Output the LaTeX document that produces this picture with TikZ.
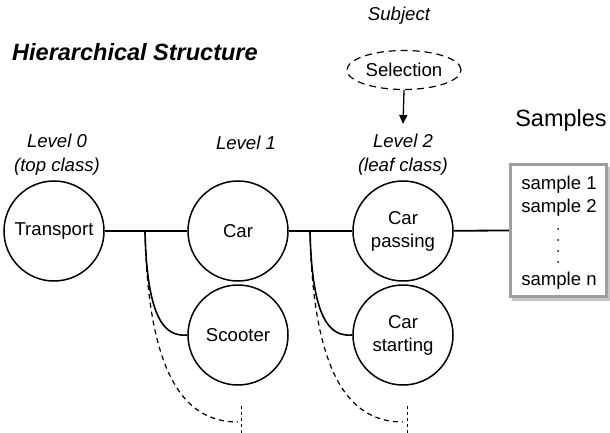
\documentclass[tikz,border=0pt]{standalone}
\usepackage{fontspec}
\setmainfont{Liberation Sans}
\usetikzlibrary{shapes.geometric,arrows.meta}

\tikzset{
  txt/.style={inner sep=0pt, font=\fontsize{18.6}{23.5}\selectfont, align=center},
  lvl/.style={txt, font=\fontsize{18.6}{24}\selectfont\itshape},
  cls/.style={circle, draw, line width=1.5pt, minimum size=100pt, inner sep=0pt,
              font=\fontsize{18.6}{23}\selectfont, align=center},
  link/.style={line width=1.8pt},
  branch/.style={line width=1.6pt},
  more/.style={line width=1.2pt, dash pattern=on 5pt off 4pt},
  tail/.style={line width=1pt, dash pattern=on 3pt off 3pt},
  samplebox/.style={draw=gray!75, line width=3.5pt, minimum width=96pt,
                    minimum height=132pt, inner sep=0pt, fill=white},
}

\begin{document}
\begin{tikzpicture}[x=1pt, y=-1pt]
  \useasboundingbox (0,0) rectangle (610,433);

  % title and subject selection
  \node[txt, font=\fontsize{23.5}{28}\selectfont\bfseries\itshape, anchor=west]
       (title) at (12,52) {Hierarchical Structure};
  \node[lvl] (subject) at (399,16) {Subject};
  \node[ellipse, draw, line width=1.2pt, dash pattern=on 7pt off 5pt,
        minimum width=114pt, minimum height=39pt, inner sep=0pt,
        font=\fontsize{18.6}{23}\selectfont] (sel) at (404,70) {Selection};
  \coordinate (selend) at (403,124);
  \draw[line width=1.3pt, -{Triangle[length=9pt,width=8pt]}] (sel.south) -- (selend);

  % level labels
  \node[lvl] (l0) at (57,155) {Level 0\\(top class)};
  \node[lvl] (l1) at (246,143) {Level 1};
  \node[lvl] (l2) at (403,155) {Level 2\\(leaf class)};
  \node[txt, font=\fontsize{23.5}{28}\selectfont] (smp) at (561,120) {Samples};

  % class nodes
  \node[cls] (transport) at (54,231) {Transport};
  \node[cls] (car) at (238,231) {Car};
  \node[cls] (scooter) at (238,335) {Scooter};
  \node[cls] (passing) at (403,231) {Car\\passing};
  \node[cls] (starting) at (403,335) {Car\\starting};

  % sample list
  \fill[gray!45] (512,167) rectangle (611,301);
  \node[samplebox] (samples) at (558.5,230.5) {};
  \node[txt] (s1) at (559,185) {sample 1};
  \node[txt] (s2) at (559,208) {sample 2};
  \node[txt] (sn) at (559,281) {sample n};
  \foreach \yy in {229,240,251,262} \fill (558,\yy) circle (1pt);

  % branch points and open ends
  \coordinate (b1) at (145,231);
  \coordinate (b2) at (310,231);
  \coordinate (e1) at (238,422);
  \coordinate (e2) at (403,422);
  \coordinate (t1a) at (241,406);
  \coordinate (t1b) at (241,433);
  \coordinate (t2a) at (407,406);
  \coordinate (t2b) at (407,433);

  % connectors
  \draw[link] (transport) -- (car);
  \draw[link] (car) -- (passing);
  \draw[link] (passing) -- (samples.west);

  \draw[more] (b1) .. controls (148,385) and (190,422) .. (e1);
  \draw[more] (b2) .. controls (313,385) and (355,422) .. (e2);
  \draw[branch] (b1) .. controls (147,320) and (165,337) .. (scooter.west);
  \draw[branch] (b2) .. controls (312,320) and (330,337) .. (starting.west);
  \draw[tail] (t1a) -- (t1b);
  \draw[tail] (t2a) -- (t2b);
\end{tikzpicture}
\end{document}
